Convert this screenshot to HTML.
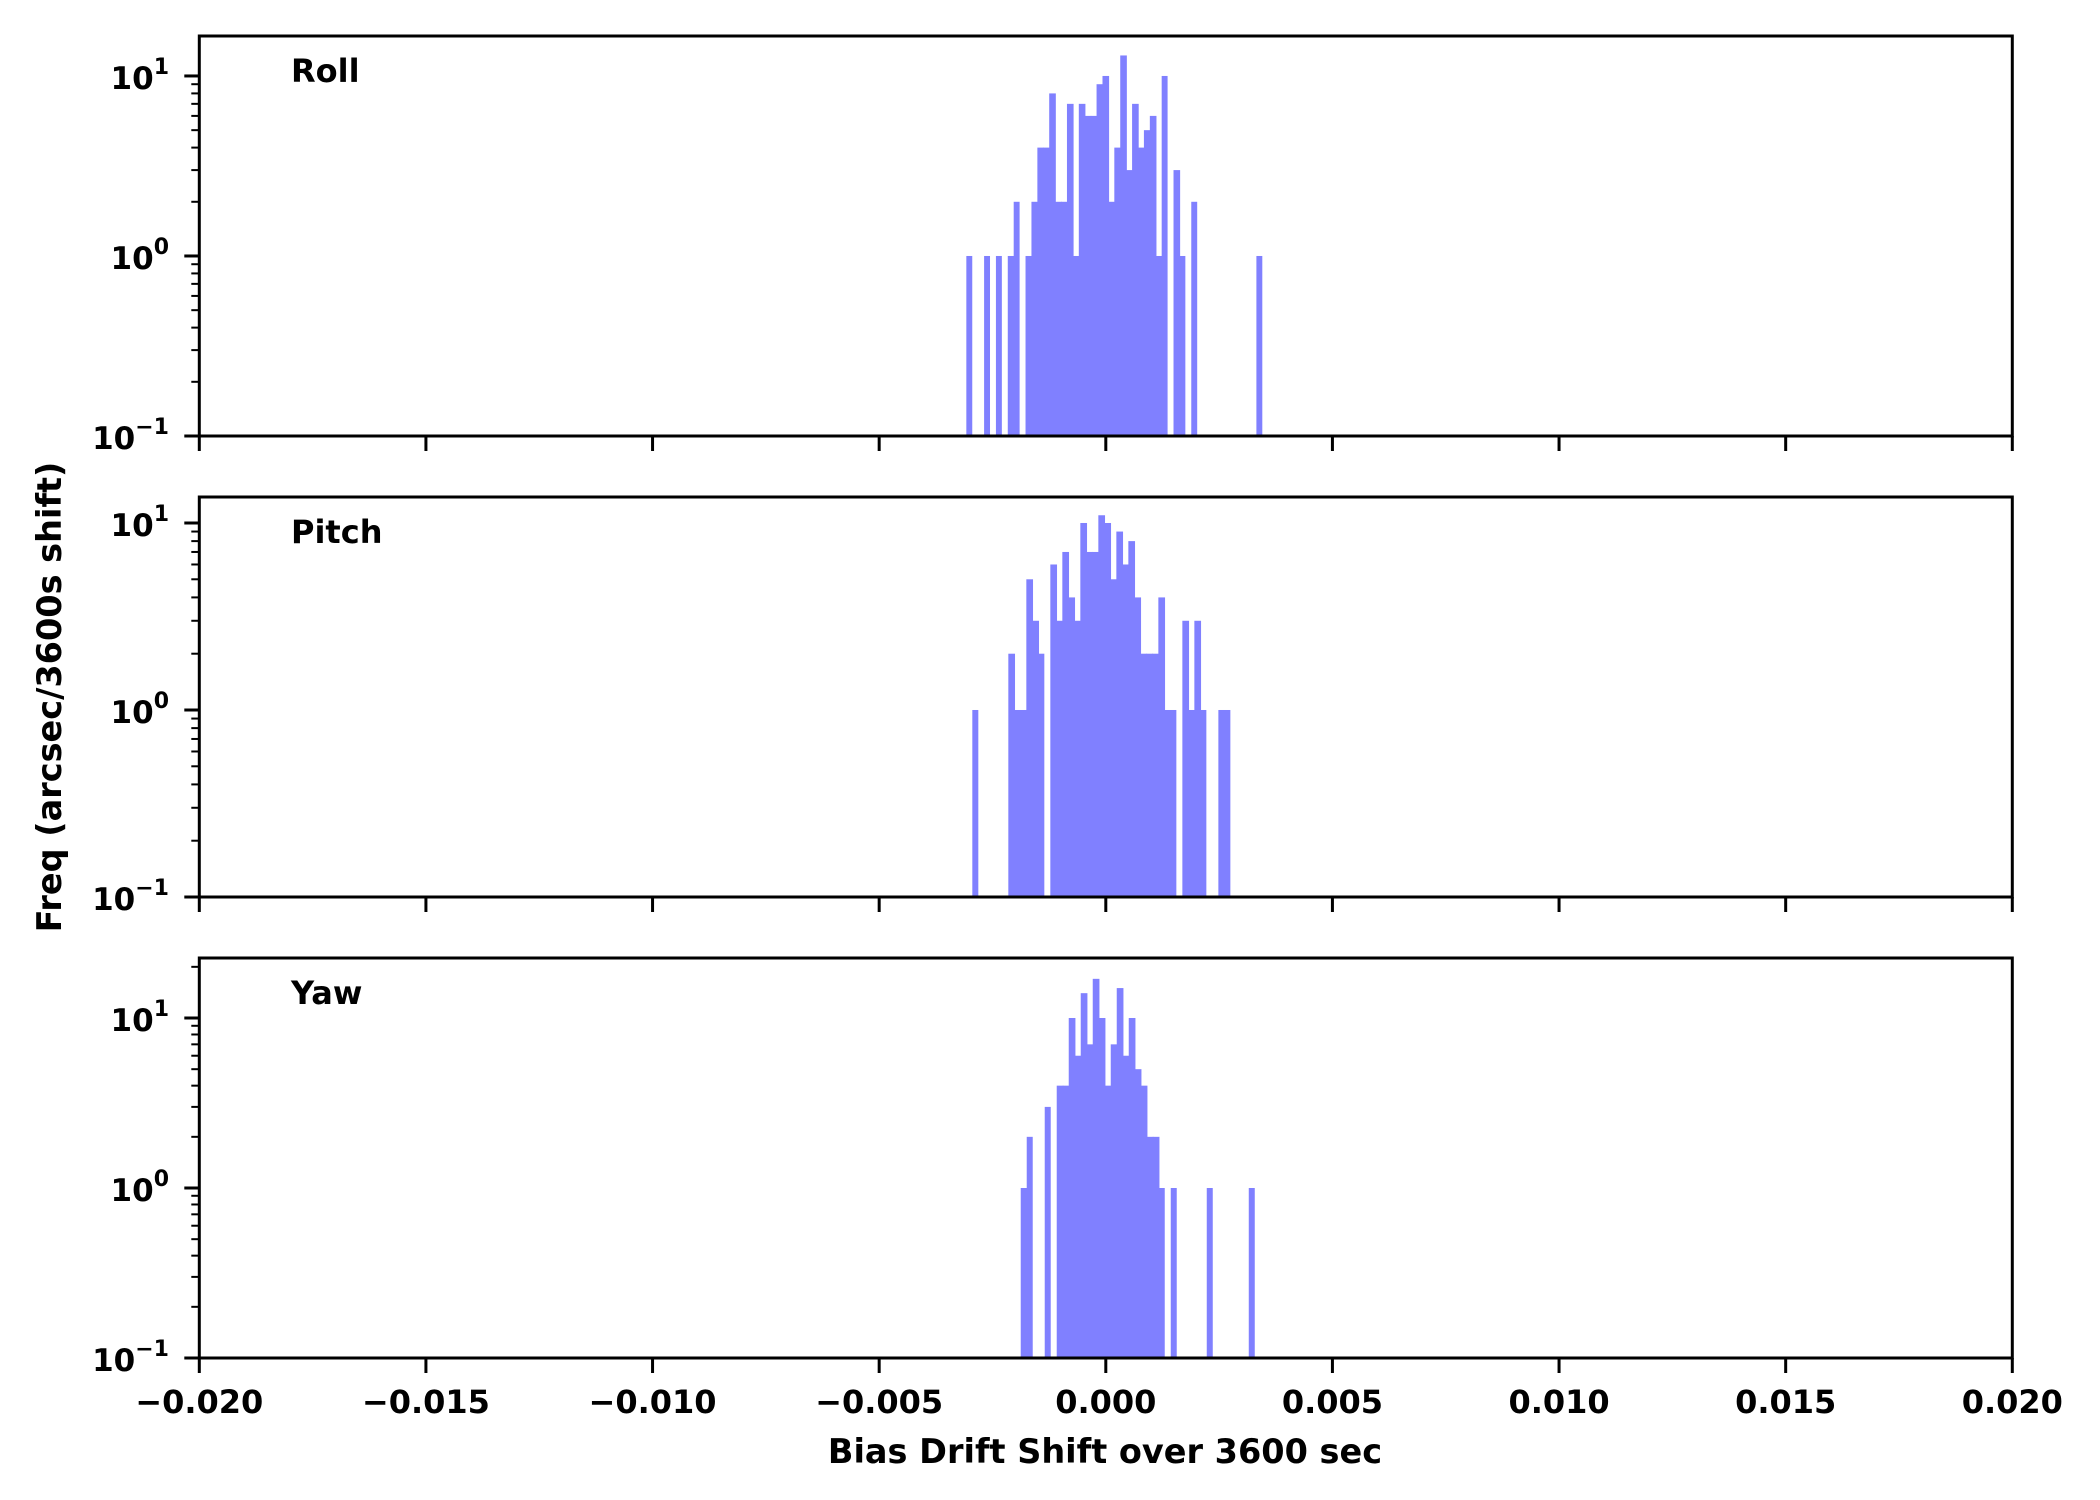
<!DOCTYPE html>
<html><head><meta charset="utf-8"><style>
html,body{margin:0;padding:0;background:#fff;}
svg{display:block;font-family:"DejaVu Sans","Liberation Sans",sans-serif;font-weight:bold;}
</style></head><body>
<svg id="chart" width="2100" height="1500" viewBox="0 0 2100 1500" xmlns="http://www.w3.org/2000/svg">
<rect width="2100" height="1500" fill="#fff"/>
</svg>
<script>
// Data
const panelNames = ["Roll", "Pitch", "Yaw"];
const rollCounts = [1,0,0,1,0,1,0,1,2,0,1,2,4,4,8,2,2,7,1,7,6,6,9,10,2,4,13,3,7,4,5,6,1,10,0,3,1,0,2,0,0,0,0,0,0,0,0,0,0,1];
const pitchCounts = [1,0,0,0,0,0,2,1,1,5,3,2,0,6,3,7,4,3,10,7,7,11,10,5,9,6,8,4,2,2,2,4,1,1,0,3,1,3,1,0,0,1,1];
const yawCounts = [1,2,0,0,3,0,4,4,10,6,14,7,17,10,4,7,15,6,10,5,4,2,2,1,0,1,0,0,0,0,0,1,0,0,0,0,0,0,1];
const binStarts = [-0.003077, -0.002945, -0.001877];
const binWidths = [0.0001306, 0.0001324, 0.0001324];
const xTicks = [-0.020,-0.015,-0.010,-0.005,0.000,0.005,0.010,0.015,0.020];
const xTickLabels = ["\u22120.020","\u22120.015","\u22120.010","\u22120.005","0.000","0.005","0.010","0.015","0.020"];
const yDecades = [-1,0,1];
const yLogMax = [1.222, 1.139, 1.353];

const NS = "http://www.w3.org/2000/svg";
const svg = document.getElementById("chart");
const X0 = 199.3, X1 = 2012.3;
const tops = [36, 497, 958], H = 400;
const xMin = -0.02, xMax = 0.02;
function xs(v){ return X0 + (v - xMin) / (xMax - xMin) * (X1 - X0); }
function ys(p, c){ const lg = Math.log10(c); return tops[p] + H - (lg + 1) / (yLogMax[p] + 1) * H; }
function mk(tag, attrs, parent){ const e = document.createElementNS(NS, tag); for (const k in attrs) e.setAttribute(k, attrs[k]); (parent||svg).appendChild(e); return e; }

const allCounts = [rollCounts, pitchCounts, yawCounts];
for (let p = 0; p < 3; p++){
  const g = mk("g", {});
  
  
  const top = tops[p], bot = top + H;
  const counts = allCounts[p];
  for (let i = 0; i < counts.length; i++){
    if (counts[i] <= 0) continue;
    const xa = xs(binStarts[p] + i * binWidths[p]);
    const xb = xs(binStarts[p] + (i + 1) * binWidths[p]);
    const yt = ys(p, counts[i]);
    const hasNext = i + 1 < counts.length && counts[i + 1] > 0;
    const r = mk("rect", {x: xa, y: yt, width: xb - xa + (hasNext ? 0.7 : 0), height: bot - yt, fill: "#8080ff"}, g);
    
    
  }
  const fr = mk("rect", {x: X0, y: top, width: X1 - X0, height: H, fill: "none", stroke: "#000", "stroke-width": 3}, g);
  
  
  for (let t = 0; t < xTicks.length; t++){
    const x = xs(xTicks[t]);
    const tk = mk("line", {x1: x, x2: x, y1: bot, y2: bot + 15, stroke: "#000", "stroke-width": 3}, g);
    
    
    if (p === 2){
      const tl = mk("text", {x: x, y: 1413, "font-size": 32, "text-anchor": "middle"}, g);
      tl.textContent = xTickLabels[t];
      
      
    }
  }
  for (let d = -1; d <= 2; d++){
    for (let m = 1; m <= 9; m++){
      const lg = d + Math.log10(m);
      if (lg < -1 - 1e-9 || lg > yLogMax[p]) continue;
      const y = ys(p, Math.pow(10, lg));
      const len = m === 1 ? 15 : 8;
      const tk = mk("line", {x1: X0 - len, x2: X0, y1: y, y2: y, stroke: "#000", "stroke-width": m === 1 ? 3 : 2}, g);
      
      
    }
  }
  for (const d of yDecades){
    const y = ys(p, Math.pow(10, d));
    const tl = mk("text", {x: 169, y: y + 13, "font-size": 31, "text-anchor": "end"}, g);
    
    
    const t1 = mk("tspan", {}, tl); t1.textContent = "10";
    const t2 = mk("tspan", {dy: -15, "font-size": 22}, tl); t2.textContent = d < 0 ? "\u2212" + Math.abs(d) : String(d);
  }
  const title = mk("text", {x: 291, y: top + 46, "font-size": 32}, g);
  title.textContent = panelNames[p];
  
  
}
const xl = mk("text", {x: 1105, y: 1463, "font-size": 33.5, "text-anchor": "middle"});
xl.textContent = "Bias Drift Shift over 3600 sec";


const yl = mk("text", {x: 0, y: 0, "font-size": 33.5, "text-anchor": "middle", transform: "translate(61,697) rotate(-90)"});
yl.textContent = "Freq (arcsec/3600s shift)";


</script>
</body></html>
